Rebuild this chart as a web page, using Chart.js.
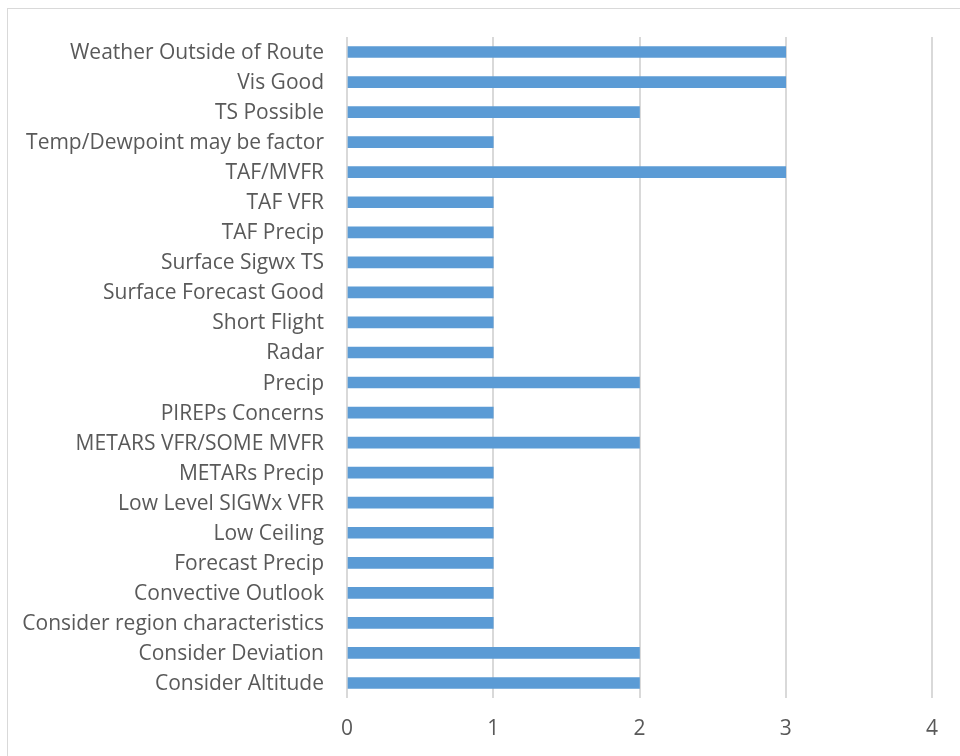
<!DOCTYPE html>
<html>
<head>
<meta charset="utf-8">
<script src="https://cdn.jsdelivr.net/npm/chart.js@4/dist/chart.umd.min.js"></script>
<style>
  html, body { margin: 0; padding: 0; background: #fff; overflow: hidden; }
  #frame { position: absolute; left: 7px; top: 8px; width: 1000px; height: 1000px; border: 1px solid #d9d9d9; box-sizing: border-box; }
  #wrap { position: absolute; left: 0; top: 0; width: 960px; height: 756px; }
</style>
</head>
<body>
<div id="frame"></div>
<div id="wrap"><canvas id="myChart" width="960" height="756"></canvas></div>
<script>
var categories = [
  'Weather Outside of Route',
  'Vis Good',
  'TS Possible',
  'Temp/Dewpoint may be factor',
  'TAF/MVFR',
  'TAF VFR',
  'TAF Precip',
  'Surface Sigwx TS',
  'Surface Forecast Good',
  'Short Flight',
  'Radar',
  'Precip',
  'PIREPs Concerns',
  'METARS VFR/SOME MVFR',
  'METARs Precip',
  'Low Level SIGWx VFR',
  'Low Ceiling',
  'Forecast Precip',
  'Convective Outlook',
  'Consider region characteristics',
  'Consider Deviation',
  'Consider Altitude'
]
var counts = [3, 3, 2, 1, 3, 1, 1, 1, 1, 1, 1, 2, 1, 2, 1, 1, 1, 1, 1, 1, 2, 2]
var xTicks = [0, 1, 2, 3, 4]

var labelFont = { family: '"Open Sans", sans-serif', size: 21 }

let ctx = document.getElementById('myChart').getContext('2d')
let myChart = new Chart(ctx, {
  type: 'bar',
  data: {
    labels: categories,
    datasets: [
      {
        label: 'Count',
        data: counts,
        backgroundColor: '#5b9bd5',
        borderWidth: 0,
        barThickness: 11,
      },
    ],
  },
  options: {
    indexAxis: 'y',
    responsive: false,
    animation: false,
    layout: { padding: { top: 37, right: 28, left: 0, bottom: 0 } },
    plugins: {
      legend: { display: false },
      tooltip: { enabled: false },
    },
    scales: {
      x: {
        min: 0,
        max: 4,
        afterBuildTicks: (axis) => {
          axis.ticks = xTicks.map((v) => ({ value: v }))
        },
        afterFit: (axis) => {
          axis.height = 58
        },
        grid: { color: '#d9d9d9', lineWidth: 2, drawTicks: false },
        border: { display: false },
        ticks: { color: '#595959', font: labelFont, padding: 18 },
      },
      y: {
        afterFit: (axis) => {
          axis.width = 347
        },
        grid: { display: false, drawTicks: false },
        border: { display: false },
        ticks: { color: '#595959', font: labelFont, padding: 23, labelOffset: 1, autoSkip: false },
      },
    },
  },
})
</script>
</body>
</html>
